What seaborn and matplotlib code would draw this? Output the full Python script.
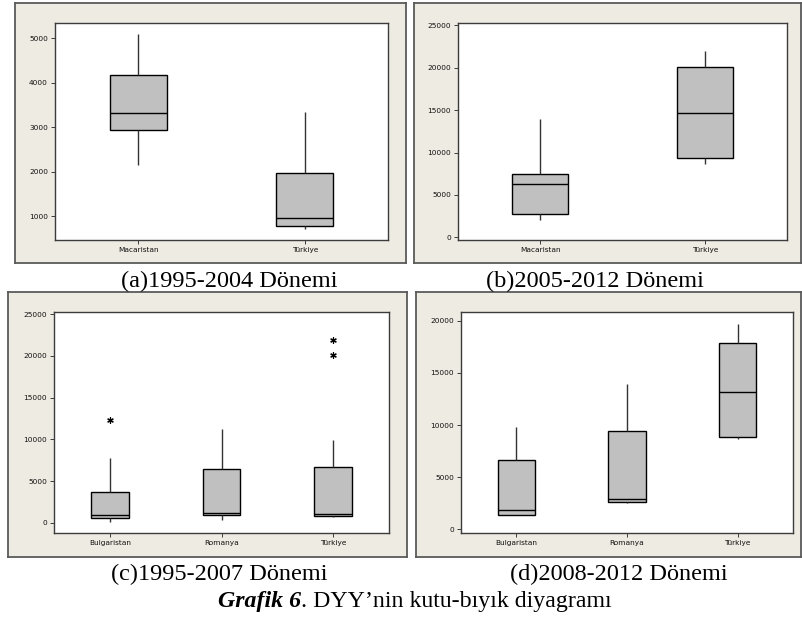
import numpy as np
import pandas as pd
import matplotlib
matplotlib.use("Agg")
import matplotlib.pyplot as plt
import seaborn as sns

sns.set_theme(style="white")
plt.rcParams['font.family'] = ['DejaVu Sans']

# ---------------- data ----------------
countries_ab = ["Macaristan", "Türkiye"]
countries_cd = ["Bulgaristan", "Romanya", "Türkiye"]

# five-number summaries per box: (min, Q1, median, Q3, max)
a_macaristan = [2150, 2930, 3310, 4170, 5100]
a_turkiye = [715, 785, 960, 1970, 3330]
b_macaristan = [2100, 2700, 6300, 7500, 13900]
b_turkiye = [8700, 9300, 14700, 20050, 22000]
c_bulgaristan = [80, 520, 960, 3640, 7750]
c_romanya = [280, 960, 1160, 6400, 11250]
c_turkiye = [680, 840, 1040, 6640, 9950]
c_outlier_countries = ["Bulgaristan", "Türkiye", "Türkiye"]
c_outlier_values = [12300, 20100, 21900]
d_bulgaristan = [1340, 1410, 1890, 6650, 9850]
d_romanya = [2530, 2590, 2940, 9380, 13900]
d_turkiye = [8650, 8820, 13180, 17900, 19700]

yticks_a = [1000, 2000, 3000, 4000, 5000]
yticks_b = [0, 5000, 10000, 15000, 20000, 25000]
yticks_c = [0, 5000, 10000, 15000, 20000, 25000]
yticks_d = [0, 5000, 10000, 15000, 20000]

captions = ["(a)1995-2004 Dönemi", "(b)2005-2012 Dönemi",
            "(c)1995-2007 Dönemi", "(d)2008-2012 Dönemi"]
title_bold = "Grafik 6"
title_rest = ". DYY’nin kutu-bıyık diyagramı"


def long_df(cats, series):
    rows = []
    for c, vals in zip(cats, series):
        for v in vals:
            rows.append((c, v))
    return pd.DataFrame(rows, columns=["Ülke", "DYY"])


df_a = long_df(countries_ab, [a_macaristan, a_turkiye])
df_b = long_df(countries_ab, [b_macaristan, b_turkiye])
df_c = long_df(countries_cd, [c_bulgaristan, c_romanya, c_turkiye])
df_d = long_df(countries_cd, [d_bulgaristan, d_romanya, d_turkiye])
df_c_out = pd.DataFrame({"Ülke": c_outlier_countries, "DYY": c_outlier_values})

# ---------------- layout (pixels) ----------------
W, H = 802, 617
fig = plt.figure(figsize=(W / 100, H / 100), dpi=100)
fig.patch.set_facecolor("white")


def fig_rect(x1, y1, x2, y2):
    return [x1 / W, 1 - y2 / H, (x2 - x1) / W, (y2 - y1) / H]


panels = [
    dict(frame=(15, 3, 406, 263), ax=(55, 23, 388, 240), df=df_a, cats=countries_ab,
         ylim=(468, 5337), yticks=yticks_a, cap=(229, 287)),
    dict(frame=(414, 3, 801, 263), ax=(458, 23, 787, 240), df=df_b, cats=countries_ab,
         ylim=(-315, 25276), yticks=yticks_b, cap=(595, 287)),
    dict(frame=(8, 292, 407, 557), ax=(54, 312, 389, 533), df=df_c, cats=countries_cd,
         ylim=(-1240, 25280), yticks=yticks_c, cap=(219, 580)),
    dict(frame=(416, 292, 801, 557), ax=(461, 312, 793, 533), df=df_d, cats=countries_cd,
         ylim=(-350, 20830), yticks=yticks_d, cap=(619, 580)),
]

frame_color = "#eeebe2"
for i, p in enumerate(panels):
    # beige background frame as its own (empty) axes behind the plot
    bg = fig.add_axes(fig_rect(*p["frame"]), zorder=0)
    bg.set_facecolor(frame_color)
    bg.set_xticks([])
    bg.set_yticks([])
    for s in bg.spines.values():
        s.set_color("#5a5a5a")
        s.set_linewidth(1.3)

    ax = fig.add_axes(fig_rect(*p["ax"]), zorder=1)
    ax.set_facecolor("white")
    sns.boxplot(data=p["df"], x="Ülke", y="DYY", order=p["cats"], ax=ax,
                whis=(0, 100), width=0.34, color="#c0c0c0", saturation=1,
                linecolor="black", linewidth=1.0, showcaps=False, fliersize=0,
                medianprops=dict(color="black", linewidth=1.0),
                whiskerprops=dict(color="#333333", linewidth=1.0))
    if i == 2:
        sns.stripplot(data=df_c_out, x="Ülke", y="DYY", order=p["cats"], ax=ax,
                      jitter=False, marker=(6, 2, 0), size=4, color="black",
                      linewidth=0.9, edgecolor="black")
    ax.set_xlim(-0.5, len(p["cats"]) - 0.5)
    ax.set_ylim(*p["ylim"])
    ax.set_yticks(p["yticks"])
    ax.set_yticklabels([str(t) for t in p["yticks"]])
    ax.set_xlabel("")
    ax.set_ylabel("")
    for s in ax.spines.values():
        s.set_color("#3c3c3c")
        s.set_linewidth(1.0)
    ax.tick_params(axis="both", which="both", direction="out", length=3, width=0.7,
                   color="#3c3c3c", labelsize=5.3, labelcolor="#111111", pad=2,
                   left=True, bottom=True)
    cx, cy = p["cap"]
    fig.text(cx / W, 1 - cy / H, captions[i], ha="center", va="baseline",
             family="Liberation Serif", fontsize=17.5, color="black")

# title with bold-italic prefix
tx, ty = 218, 607
t1 = fig.text(tx / W, 1 - ty / H, title_bold, ha="left", va="baseline",
              family="Liberation Serif", fontsize=17.2, fontweight="bold",
              fontstyle="italic", color="black")
fig.canvas.draw()
bb = t1.get_window_extent(renderer=fig.canvas.get_renderer())
fig.text(bb.x1 / W, 1 - ty / H, title_rest, ha="left", va="baseline",
         family="Liberation Serif", fontsize=17.2, color="black")

fig.savefig("out.png", dpi=100, facecolor="white")
